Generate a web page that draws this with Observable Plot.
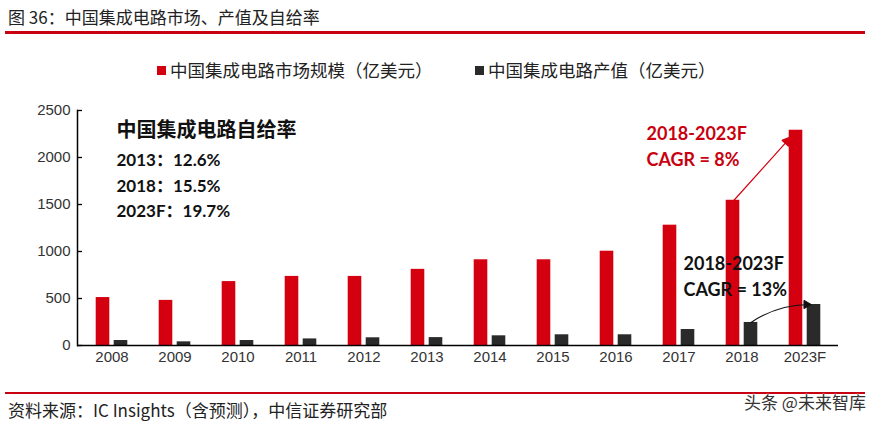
<!DOCTYPE html>
<html>
<head>
<meta charset="utf-8">
<script src="https://cdn.jsdelivr.net/npm/d3@7"></script>
<script src="https://cdn.jsdelivr.net/npm/@observablehq/plot@0.6"></script>
<style>
  html, body { margin: 0; padding: 0; background: #fff; }
  #page { position: relative; width: 869px; height: 427px; overflow: hidden; font-family: "Noto Sans CJK SC", "Liberation Sans", sans-serif; color: #222; }
  .abs { position: absolute; white-space: nowrap; }
  #title { left: 8px; top: 5px; font-size: 17px; line-height: 24px; color: #222; }
  #titleRule { left: 5px; top: 31px; width: 860px; height: 2.5px; background: #c8000f; }
  .leg { top: 58px; font-size: 17.5px; line-height: 24px; color: #222; display: flex; align-items: center; }
  .sw { width: 9px; height: 9px; margin-right: 4px; display: inline-block; }
  #chart { left: 0; top: 95px; }
  #footRule { left: 5px; top: 392px; width: 860px; height: 1.5px; background: #c8000f; }
  #source { left: 8px; top: 398px; font-size: 17px; line-height: 24px; color: #222; }
  #wm { left: 744px; top: 390px; font-size: 17px; line-height: 24px; color: #333; text-shadow: 0 0 2px #fff, 0 0 2px #fff; }
</style>
</head>
<body>
<div id="page">
  <div id="title" class="abs">图 36：中国集成电路市场、产值及自给率</div>
  <div id="titleRule" class="abs"></div>
  <div class="abs leg" style="left:157px"><span class="sw" style="background:#d40010"></span>中国集成电路市场规模（亿美元）</div>
  <div class="abs leg" style="left:475px"><span class="sw" style="background:#2a2a2a"></span>中国集成电路产值（亿美元）</div>
  <div id="chart" class="abs"></div>
  <div id="footRule" class="abs"></div>
  <div id="source" class="abs">资料来源：IC Insights（含预测），中信证券研究部</div>
  <div id="wm" class="abs">头条 @未来智库</div>
</div>
<script>
// ---- data ----
const years  = ["2008","2009","2010","2011","2012","2013","2014","2015","2016","2017","2018","2023F"];
const market = [510, 480, 680, 735, 735, 810, 912, 912, 1003, 1280, 1545, 2290];
const output = [53, 39, 53, 70, 82, 84, 103, 114, 114, 170, 245, 436];
const yTicks = [0, 500, 1000, 1500, 2000, 2500];
const selfTitle = "中国集成电路自给率";
const selfLines = ["2013：12.6%", "2018：15.5%", "2023F：19.7%"];
const cagrMarket = ["2018-2023F", "CAGR = 8%"];
const cagrOutput = ["2018-2023F", "CAGR = 13%"];

const table = years.map((y, i) => ({year: y, market: market[i], output: output[i]}));
const i18 = years.indexOf("2018"), i23 = years.indexOf("2023F");
const arrowMarket = [{x1: years[i18], y1: market[i18], x2: years[i23], y2: market[i23]}];
const arrowOutput = [{x1: years[i18], y1: output[i18], x2: years[i23], y2: output[i23]}];

const RED = "#d40010", DARK = "#2a2a2a", RED_TXT = "#c8000f";
const boldFont = "Lato, 'Noto Sans CJK SC', sans-serif";

const svg = Plot.plot({
  width: 869, height: 280,
  marginTop: 15, marginBottom: 30, marginLeft: 77, marginRight: 31,
  x: {type: "band", domain: years, padding: 0, label: null},
  y: {domain: [0, 2500], ticks: yTicks, label: null, tickFormat: d3.format("d")},
  style: {fontFamily: "'Liberation Sans', Arial, sans-serif", fontSize: "15px", color: "#333", background: "transparent", overflow: "visible"},
  marks: [
    Plot.barY(table, {x: "year", y: "market", fill: RED, insetLeft: 15.7, insetRight: 33.7}),
    Plot.barY(table, {x: "year", y: "output", fill: DARK, insetLeft: 33.7, insetRight: 15.7}),
    Plot.axisY({ticks: yTicks, tickFormat: d3.format("d"), tickSize: -5, tickPadding: 12, stroke: "#000", strokeWidth: 1.3, fill: "#333", fontSize: 15}),
    Plot.axisX({tickSize: 0, tickPadding: 6, fill: "#333", fontSize: 15}),
    Plot.frame({anchor: "left", stroke: "#000", strokeWidth: 1.5}),
    Plot.ruleY([0], {stroke: "#000", strokeWidth: 1.5}),
    Plot.arrow(arrowMarket, {x1: "x1", y1: "y1", x2: "x2", y2: "y2", dx: -8, insetEnd: 9, stroke: RED, strokeWidth: 1.2, headLength: 12, headAngle: 55}),
    Plot.arrow(arrowOutput, {x1: "x1", y1: "y1", x2: "x2", y2: "y2", dx: 9, insetEnd: 3, bend: 18, stroke: "#111", strokeWidth: 1.1, headLength: 11, headAngle: 60}),
    Plot.text([selfTitle], {text: d => d, frameAnchor: "top-left", dx: 39, dy: 20, lineAnchor: "middle", textAnchor: "start", fontSize: 20, fontWeight: "bold", fill: "#111", fontFamily: "'Noto Sans CJK SC', sans-serif"}),
    Plot.text([selfLines.join("\n")], {text: d => d, frameAnchor: "top-left", dx: 39, dy: 38, lineHeight: 1.49, lineAnchor: "top", textAnchor: "start", fontSize: 17, fontWeight: "bold", fill: "#111", fontFamily: boldFont}),
    Plot.text([cagrMarket.join("\n")], {text: d => d, frameAnchor: "top-left", dx: 569, dy: 11, lineHeight: 1.43, lineAnchor: "top", textAnchor: "start", fontSize: 18, fontWeight: "bold", fill: RED_TXT, fontFamily: boldFont}),
    Plot.text([cagrOutput.join("\n")], {text: d => d, frameAnchor: "top-left", dx: 606, dy: 142, lineHeight: 1.4, lineAnchor: "top", textAnchor: "start", fontSize: 18, fontWeight: "bold", fill: "#111", fontFamily: boldFont})
  ]
});

// turn the open arrow heads into filled triangles
svg.querySelectorAll('g[aria-label="arrow"]').forEach(g => {
  const col = g.getAttribute("stroke") || "#000";
  g.querySelectorAll("path").forEach(p => {
    const d = p.getAttribute("d");
    const k = d.indexOf("M", 1);
    if (k < 0) return;
    p.setAttribute("d", d.slice(0, k));
    const h = p.cloneNode();
    h.setAttribute("d", d.slice(k) + "Z");
    h.setAttribute("fill", col);
    h.setAttribute("stroke-linejoin", "miter");
    p.after(h);
  });
});
document.getElementById("chart").appendChild(svg);
</script>
</body>
</html>
